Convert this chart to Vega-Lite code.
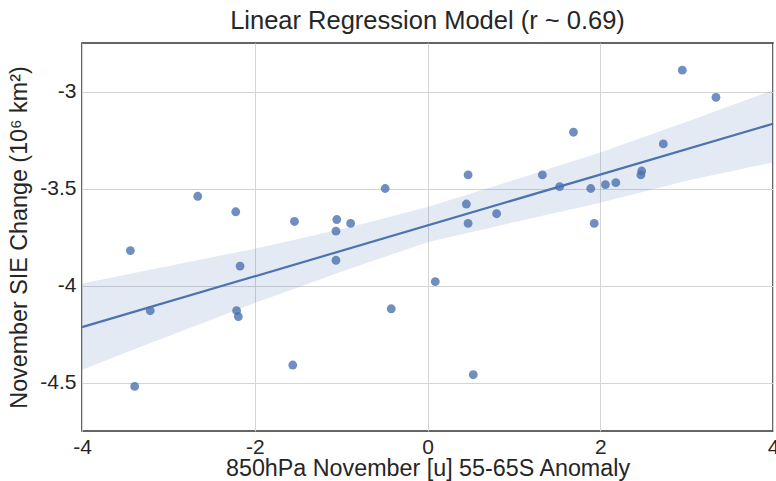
{
  "$schema": "https://vega.github.io/schema/vega-lite/v6.json",
  "autosize": "none",
  "width": 691,
  "height": 388,
  "padding": {"left": 82, "top": 43, "right": 3, "bottom": 50},
  "background": "white",
  "config": {
    "font": "Liberation Sans",
    "view": {"stroke": "#333333", "strokeWidth": 1.5},
    "axis": {
      "domain": false,
      "ticks": false,
      "grid": true,
      "gridColor": "#d4d4d4",
      "gridWidth": 1,
      "labelFont": "Liberation Sans",
      "labelFontSize": 21,
      "labelColor": "#262626",
      "labelFlush": false,
      "labelOverlap": false,
      "titleFont": "Liberation Sans",
      "titleFontSize": 23.3,
      "titleFontWeight": "normal",
      "titleColor": "#262626",
      "labelPadding": 6
    },
    "title": {"font": "Liberation Sans", "fontSize": 25.5, "fontWeight": "normal", "color": "#262626", "offset": 9}
  },
  "title": {"text": "Linear Regression Model (r ~ 0.69)"},
  "datasets": {
    "points": [
      {"x": -3.44, "y": -3.82},
      {"x": -3.39, "y": -4.52},
      {"x": -3.21, "y": -4.13},
      {"x": -2.66, "y": -3.54},
      {"x": -2.22, "y": -3.62},
      {"x": -2.17, "y": -3.90},
      {"x": -2.21, "y": -4.13},
      {"x": -2.19, "y": -4.16},
      {"x": -1.54, "y": -3.67},
      {"x": -1.56, "y": -4.41},
      {"x": -1.05, "y": -3.66},
      {"x": -1.06, "y": -3.72},
      {"x": -1.06, "y": -3.87},
      {"x": -0.89, "y": -3.68},
      {"x": -0.49, "y": -3.50},
      {"x": -0.42, "y": -4.12},
      {"x": 0.09, "y": -3.98},
      {"x": 0.47, "y": -3.43},
      {"x": 0.45, "y": -3.58},
      {"x": 0.47, "y": -3.68},
      {"x": 0.53, "y": -4.46},
      {"x": 0.80, "y": -3.63},
      {"x": 1.33, "y": -3.43},
      {"x": 1.53, "y": -3.49},
      {"x": 1.69, "y": -3.21},
      {"x": 1.89, "y": -3.50},
      {"x": 1.93, "y": -3.68},
      {"x": 2.06, "y": -3.48},
      {"x": 2.18, "y": -3.47},
      {"x": 2.47, "y": -3.43},
      {"x": 2.48, "y": -3.41},
      {"x": 2.73, "y": -3.27},
      {"x": 2.95, "y": -2.89},
      {"x": 3.34, "y": -3.03}
    ],
    "band": [
      {"x": -4.0, "upper": -3.99, "lower": -4.434},
      {"x": -3.4, "upper": -3.936, "lower": -4.33},
      {"x": -2.0, "upper": -3.81, "lower": -4.09},
      {"x": -0.9, "upper": -3.70, "lower": -3.914},
      {"x": 0.0, "upper": -3.596, "lower": -3.777},
      {"x": 1.0, "upper": -3.456, "lower": -3.674},
      {"x": 2.0, "upper": -3.314, "lower": -3.573},
      {"x": 3.0, "upper": -3.156, "lower": -3.46},
      {"x": 4.0, "upper": -2.993, "lower": -3.365}
    ]
  },
  "layer": [
    {
      "data": {"name": "points"},
      "mark": {"type": "circle", "size": 78, "color": "#4c72b0", "opacity": 0.8, "strokeWidth": 0},
      "encoding": {
        "x": {"field": "x", "type": "quantitative",
              "scale": {"domain": [-4, 4], "nice": false, "zero": false},
              "axis": {"values": [-4, -2, 0, 2, 4], "labelExpr": "datum.value + ''", "title": "850hPa November [u] 55-65S Anomaly", "labelPadding": 5, "titlePadding": 0}},
        "y": {"field": "y", "type": "quantitative",
              "scale": {"domain": [-4.75, -2.75], "nice": false, "zero": false},
              "axis": {"values": [-4.5, -4, -3.5, -3], "labelExpr": "datum.value + ''", "title": "November SIE Change (10⁶ km²)", "titlePadding": 8}}
      }
    },
    {
      "data": {"name": "band"},
      "mark": {"type": "area", "color": "#4c72b0", "opacity": 0.15},
      "encoding": {
        "x": {"field": "x", "type": "quantitative"},
        "y": {"field": "upper", "type": "quantitative"},
        "y2": {"field": "lower"}
      }
    },
    {
      "data": {"name": "points"},
      "transform": [{"regression": "y", "on": "x", "extent": [-4, 4]}],
      "mark": {"type": "line", "color": "#4c72b0", "strokeWidth": 2.2},
      "encoding": {
        "x": {"field": "x", "type": "quantitative"},
        "y": {"field": "y", "type": "quantitative"}
      }
    }
  ]
}
